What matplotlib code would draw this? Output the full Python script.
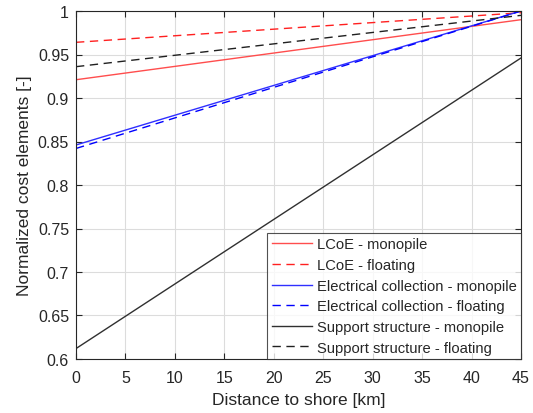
import matplotlib
matplotlib.use("Agg")
import matplotlib.pyplot as plt
import numpy as np

plt.rcParams['font.family'] = ['Liberation Sans', 'DejaVu Sans']

# distance to shore [km] at the ends of each (linear) curve
distance = [0, 45]

lcoe_mono = [0.921, 0.990]
lcoe_float = [0.964, 0.998]
elec_mono = [0.846, 1.000]
elec_float = [0.842, 1.000]
support_mono = [0.612, 0.946]
support_float = [0.936, 0.995]

labels = ["LCoE - monopile", "LCoE - floating",
          "Electrical collection - monopile", "Electrical collection - floating",
          "Support structure - monopile", "Support structure - floating"]

xticks = np.arange(0, 46, 5)
yticks = [0.6, 0.65, 0.7, 0.75, 0.8, 0.85, 0.9, 0.95, 1.0]
ytick_labels = ["0.6", "0.65", "0.7", "0.75", "0.8", "0.85", "0.9", "0.95", "1"]

txt = "#262626"
fig = plt.figure(figsize=(5.33, 4.14), dpi=100)
ax = fig.add_axes([76 / 533, 1 - 360 / 414, 445 / 533, 348 / 414])

dash = (0, (6, 4))
ax.plot(distance, lcoe_mono, color="#ff4d4d", lw=1.0, label=labels[0])
ax.plot(distance, lcoe_float, color="#ff2020", lw=1.0, ls=dash, label=labels[1])
ax.plot(distance, elec_mono, color="#3030ff", lw=1.0, label=labels[2])
ax.plot(distance, elec_float, color="#0000ff", lw=1.0, ls=dash, label=labels[3])
ax.plot(distance, support_mono, color="#303030", lw=1.0, label=labels[4])
ax.plot(distance, support_float, color="#202020", lw=1.0, ls=dash, label=labels[5])

ax.set_xlim(0, 45)
ax.set_ylim(0.6, 1.0)
ax.set_xticks(xticks)
ax.set_yticks(yticks)
ax.set_yticklabels(ytick_labels)
ax.grid(True, color="#dcdcdc", lw=0.8)
ax.set_axisbelow(True)
ax.tick_params(direction="in", length=4, width=0.8, colors=txt, labelsize=11.5,
               top=True, right=True, pad=5)
ax.tick_params(axis="x", pad=8)
for s in ax.spines.values():
    s.set_color(txt)
    s.set_linewidth(0.8)

ax.set_xlabel("Distance to shore [km]", fontsize=12.5, color=txt, labelpad=5)
ax.set_ylabel("Normalized cost elements [-]", fontsize=12.5, color=txt, labelpad=4)

leg = ax.legend(loc="lower right", fontsize=10.6, frameon=True, fancybox=False,
                borderaxespad=0, handlelength=2.75, handletextpad=0.3,
                labelspacing=0.45, borderpad=0.3)
leg.get_frame().set_edgecolor(txt)
leg.get_frame().set_linewidth(0.8)
for t in leg.get_texts():
    t.set_color(txt)

fig.savefig("out.png", dpi=100)
